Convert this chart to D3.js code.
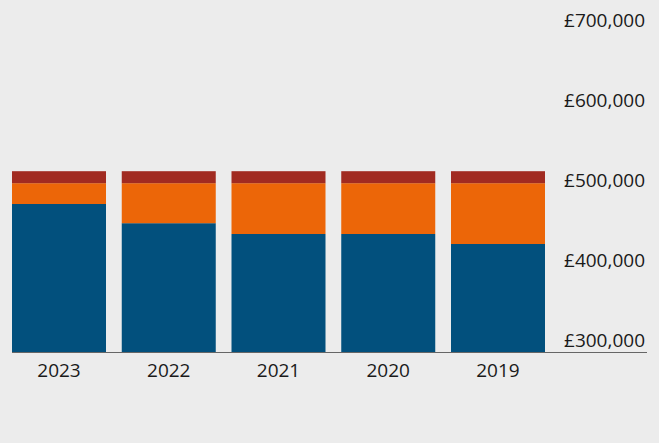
<!DOCTYPE html>
<html>
<head>
<meta charset="utf-8">
<script src="https://cdn.jsdelivr.net/npm/d3@7"></script>
<style>
  body { margin: 0; background: #ececec; }
  svg { display: block; font-family: "Open Sans", sans-serif; }
</style>
</head>
<body>
<script>
// bar categories, left to right
let years = ["2023", "2022", "2021", "2020", "2019"];
// stacked segments (bottom to top), values in pounds
let blueVals = [485000, 461000, 447500, 447500, 435000];
let orangeVals = [26000, 50000, 63500, 63500, 76000];
let redVals = [15000, 15000, 15000, 15000, 15000];
let yTicks = [300000, 400000, 500000, 600000, 700000];

let colors = ["#02507d", "#ec6608", "#a12b21"];

let W = 659, H = 443;
let svg = d3.select("body").append("svg")
    .attr("width", W)
    .attr("height", H);

// ranges
let x = d3.scaleBand().domain(years).range([12, 545]).paddingInner(0.1435).paddingOuter(0);
let y = d3.scaleLinear().domain([300000, 700000]).range([352, 32]);

// build stack rows
let rows = years.map(function (yr, i) {
    return {year: yr, blue: blueVals[i], orange: orangeVals[i], red: redVals[i]};
});
let layers = d3.stack().keys(["blue", "orange", "red"])(rows);

svg.selectAll("g.layer")
    .data(layers)
    .enter().append("g")
    .attr("class", "layer")
    .attr("fill", function (d, i) { return colors[i]; })
    .selectAll("rect")
    .data(function (d) { return d; })
    .enter().append("rect")
    .attr("x", function (d) { return x(d.data.year); })
    .attr("width", x.bandwidth())
    .attr("y", function (d) { return y(Math.max(d[1], 300000)); })
    .attr("height", function (d) { return y(Math.max(d[0], 300000)) - y(Math.max(d[1], 300000)); });

// baseline
svg.append("line")
    .attr("x1", 12).attr("x2", 647)
    .attr("y1", y(300000) + 0.5).attr("y2", y(300000) + 0.5)
    .attr("stroke", "#666").attr("stroke-width", 1);

// y labels on the right, sitting above their tick value
svg.selectAll("text.ylab")
    .data(yTicks)
    .enter().append("text")
    .attr("class", "ylab")
    .attr("x", 645)
    .attr("y", function (d) { return y(d) - 5; })
    .attr("text-anchor", "end")
    .attr("font-size", 19)
    .attr("fill", "#1a1a1a")
    .text(function (d) { return "£" + d3.format(",")(d); });

// x labels
svg.selectAll("text.xlab")
    .data(years)
    .enter().append("text")
    .attr("class", "xlab")
    .attr("x", function (d) { return x(d) + x.bandwidth() / 2; })
    .attr("y", 377)
    .attr("text-anchor", "middle")
    .attr("font-size", 19)
    .attr("fill", "#1a1a1a")
    .text(function (d) { return d; });
</script>
</body>
</html>
